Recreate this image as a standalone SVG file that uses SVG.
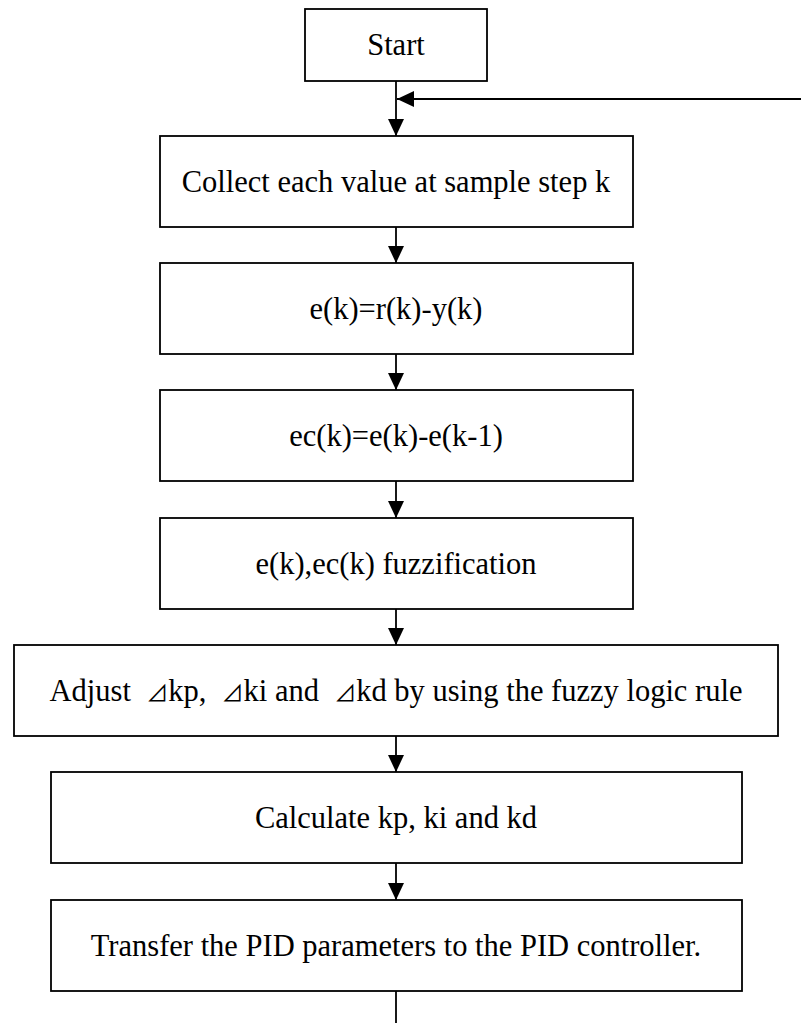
<svg xmlns="http://www.w3.org/2000/svg" width="802" height="1023" viewBox="0 0 802 1023">
<style>
.box{fill:#fff;stroke:#000;stroke-width:1.8}
.lbl{font-family:"Liberation Serif","Times New Roman",serif;font-size:30.5px;fill:#000;text-anchor:middle}
.pre{white-space:pre}
.tri{font-family:"Noto Sans CJK SC","DejaVu Sans",sans-serif;font-size:22px}
.conn{stroke:#000;stroke-width:1.8;fill:none}
</style>
<defs>
<marker id="ah" markerUnits="userSpaceOnUse" markerWidth="18" markerHeight="18" viewBox="0 0 18 18" refX="17" refY="8" orient="auto">
<path d="M0,0 L17,8 L0,16 Z" fill="#000"/>
</marker>
</defs>
<rect width="802" height="1023" fill="#fff"/>
<g id="connectors">
<line class="conn" x1="396" y1="81" x2="396" y2="136" marker-end="url(#ah)"/>
<line class="conn" x1="801" y1="99" x2="397" y2="99" marker-end="url(#ah)"/>
<line class="conn" x1="396" y1="227" x2="396" y2="263" marker-end="url(#ah)"/>
<line class="conn" x1="396" y1="354" x2="396" y2="390" marker-end="url(#ah)"/>
<line class="conn" x1="396" y1="481" x2="396" y2="518" marker-end="url(#ah)"/>
<line class="conn" x1="396" y1="609" x2="396" y2="645" marker-end="url(#ah)"/>
<line class="conn" x1="396" y1="736" x2="396" y2="772" marker-end="url(#ah)"/>
<line class="conn" x1="396" y1="863" x2="396" y2="900" marker-end="url(#ah)"/>
<line class="conn" x1="396" y1="991" x2="396" y2="1023"/>
</g>
<g id="start"><rect class="box" x="305" y="9" width="182" height="72"/><text class="lbl" x="396" y="55">Start</text></g>
<g id="collect"><rect class="box" x="160" y="136" width="473" height="91"/><text class="lbl" x="396" y="192">Collect each value at sample step k</text></g>
<g id="error"><rect class="box" x="160" y="263" width="473" height="91"/><text class="lbl" x="396" y="319">e(k)=r(k)-y(k)</text></g>
<g id="errorchange"><rect class="box" x="160" y="390" width="473" height="91"/><text class="lbl" x="396" y="446">ec(k)=e(k)-e(k-1)</text></g>
<g id="fuzzify"><rect class="box" x="160" y="518" width="473" height="91"/><text class="lbl" x="396" y="574">e(k),ec(k) fuzzification</text></g>
<g id="adjust"><rect class="box" x="14" y="645" width="764" height="91"/><text class="lbl pre" x="396" y="701">Adjust  <tspan class="tri">⊿</tspan>kp,  <tspan class="tri">⊿</tspan>ki and  <tspan class="tri">⊿</tspan>kd by using the fuzzy logic rule</text></g>
<g id="calculate"><rect class="box" x="51" y="772" width="691" height="91"/><text class="lbl" x="396" y="828">Calculate kp, ki and kd</text></g>
<g id="transfer"><rect class="box" x="51" y="900" width="691" height="91"/><text class="lbl" x="396" y="956">Transfer the PID parameters to the PID controller.</text></g>
</svg>
